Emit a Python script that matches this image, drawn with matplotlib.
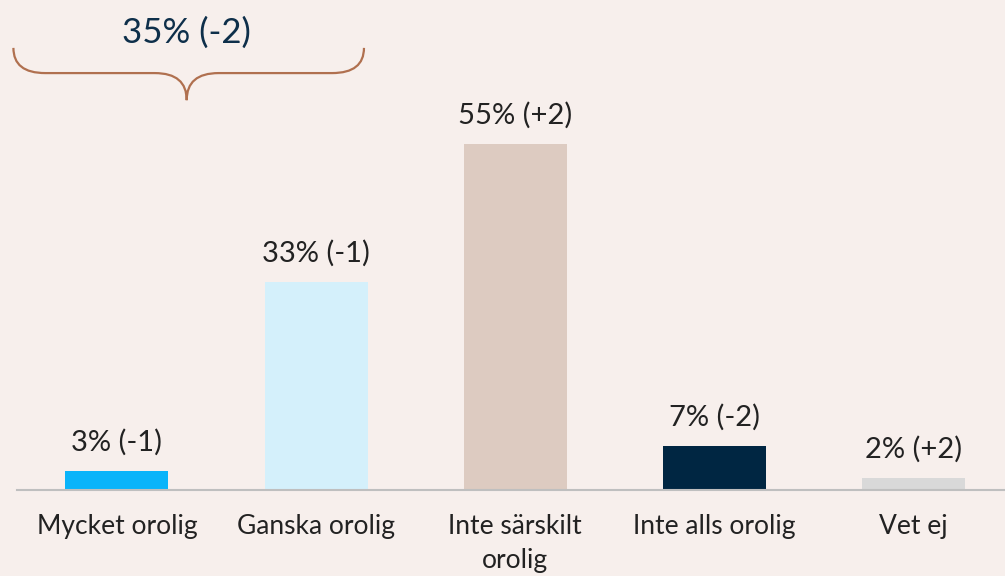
import numpy as np
import matplotlib.pyplot as plt
from matplotlib.path import Path
from matplotlib.patches import PathPatch

categories = ['Mycket orolig', 'Ganska orolig', 'Inte särskilt\norolig', 'Inte alls orolig', 'Vet ej']
values = [3, 33, 55, 7, 2]
changes = ['-1', '-1', '+2', '-2', '+2']
colors = ['#0AB4FA', '#D4F0FB', '#DDCBC1', '#002642', '#D9D9D9']
group_total = 35
group_change = '-2'

bg = '#F7EFEC'
plt.rcParams['font.family'] = ['Lato', 'DejaVu Sans']

fig = plt.figure(figsize=(10.05, 5.76), dpi=100, facecolor=bg)
ax = fig.add_axes([0.0173, 0.149, 0.991, 0.851], facecolor=bg)

x = np.arange(len(categories))
ax.bar(x, values, width=0.517, color=colors, zorder=2)
ax.set_xlim(-0.5, 4.5)
ax.set_ylim(0, 77.8)

# value labels with change since last time
for xi, v, c in zip(x, values, changes):
    ax.annotate(f'{v}% ({c})', (xi, v), xytext=(0, 11), textcoords='offset points',
                ha='center', va='bottom', fontsize=21, color='#222222')

for s in ['top', 'left', 'right']:
    ax.spines[s].set_visible(False)
ax.spines['bottom'].set_color('#BFBFBF')
ax.spines['bottom'].set_linewidth(1.5)
ax.set_yticks([])
ax.set_xticks(x)
ax.set_xticklabels(categories, fontsize=19, color='#222222', linespacing=1.45)
ax.tick_params(axis='x', length=0, pad=17)

# brace above the first two bars
x0, x1 = -0.52, 1.24
xc = (x0 + x1) / 2 - 0.01
ytop, ymid, ybot = 70.2, 66.2, 61.9
r = 0.16
verts = [(x0, ytop), (x0, ymid), (x0 + r, ymid), (xc - r, ymid), (xc, ymid), (xc, ybot),
         (xc, ymid), (xc + r, ymid), (x1 - r, ymid), (x1, ymid), (x1, ytop)]
codes = [Path.MOVETO, Path.CURVE3, Path.CURVE3, Path.LINETO, Path.CURVE3, Path.CURVE3,
         Path.CURVE3, Path.CURVE3, Path.LINETO, Path.CURVE3, Path.CURVE3]
ax.add_patch(PathPatch(Path(verts, codes), fill=False, edgecolor='#B0704F', lw=1.6,
                       clip_on=False, zorder=3))
ax.text(xc, 72.6, f'{group_total}% ({group_change})', ha='center', va='center',
        fontsize=25, color='#0E2F4A')

fig.savefig('out.png', dpi=100, facecolor=bg)
